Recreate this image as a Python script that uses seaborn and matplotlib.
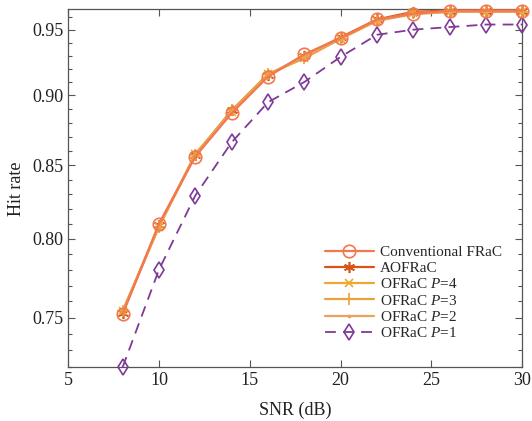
import numpy as np
import pandas as pd
import matplotlib
matplotlib.use('Agg')
import matplotlib.pyplot as plt
import seaborn as sns
from matplotlib.ticker import FixedLocator, FormatStrFormatter, NullFormatter

snr = [8, 10, 12, 14, 16, 18, 20, 22, 24, 26, 28, 30]

conventional = [0.752, 0.810, 0.856, 0.887, 0.914, 0.931, 0.9435, 0.958, 0.9625, 0.965, 0.965, 0.965]
aofrac = [0.753, 0.809, 0.857, 0.889, 0.915, 0.930, 0.944, 0.958, 0.964, 0.965, 0.965, 0.965]
ofrac_p4 = [0.754, 0.808, 0.858, 0.888, 0.916, 0.928, 0.943, 0.957, 0.963, 0.964, 0.964, 0.964]
ofrac_p3 = [0.754, 0.808, 0.857, 0.889, 0.916, 0.928, 0.943, 0.957, 0.963, 0.964, 0.964, 0.964]
ofrac_p2 = [0.753, 0.809, 0.857, 0.888, 0.915, 0.929, 0.943, 0.957, 0.962, 0.964, 0.964, 0.964]
ofrac_p1 = [0.720, 0.780, 0.829, 0.866, 0.895, 0.910, 0.929, 0.946, 0.950, 0.952, 0.954, 0.954]

labels = ['Conventional FRaC', 'AOFRaC', 'OFRaC $P$=4', 'OFRaC $P$=3',
          'OFRaC $P$=2', 'OFRaC $P$=1']

sns.set_theme(style='ticks')
plt.rcParams['font.family'] = ['Liberation Serif', 'DejaVu Serif']
plt.rcParams['mathtext.fontset'] = 'custom'
plt.rcParams['mathtext.rm'] = 'Liberation Serif'
plt.rcParams['mathtext.it'] = 'Liberation Serif:italic'

fig = plt.figure(figsize=(5.32, 4.21), dpi=100)
ax = fig.add_axes([0.128, 0.1276, 0.8538, 0.8503])

asterisk = (6, 2, 0)
# series: values, color, marker, markersize, linestyle
series = [
    (ofrac_p1, '#7E3A96', 'd', 8, (0, (6, 4))),
    (aofrac, '#D95319', asterisk, 8, '-'),
    (ofrac_p4, '#EDA830', 'x', 6, '-'),
    (ofrac_p3, '#E9A23B', '+', 8, '-'),
    (ofrac_p2, '#E8A45A', '.', 3, '-'),
    (conventional, '#F2784F', 'o', 9, '-'),
]
names = [labels[5], labels[1], labels[2], labels[3], labels[4], labels[0]]

handles = {}
for (vals, c, m, ms, ls), name in zip(series, names):
    df = pd.DataFrame({'snr': snr, 'hit': vals})
    sns.lineplot(data=df, x='snr', y='hit', ax=ax, color=c, marker=m,
                 markersize=ms, linestyle=ls, linewidth=1.6 if name != labels[5] else 1.3,
                 markerfacecolor='none' if m in ('o', 'd') else c,
                 markeredgecolor=c, markeredgewidth=1.2, clip_on=False, zorder=3)
    handles[name] = ax.lines[-1]

ax.set_yscale('log')
ax.set_xlim(5, 30)
ax.set_ylim(0.72, 0.966)
ax.xaxis.set_major_locator(FixedLocator([5, 10, 15, 20, 25, 30]))
ax.yaxis.set_major_locator(FixedLocator([0.75, 0.80, 0.85, 0.90, 0.95]))
ax.yaxis.set_major_formatter(FormatStrFormatter('%.2f'))
ax.yaxis.set_minor_locator(FixedLocator(np.round(np.arange(0.72, 0.967, 0.01), 2)))
ax.yaxis.set_minor_formatter(NullFormatter())

for s in ax.spines.values():
    s.set_color('#555555')
    s.set_linewidth(0.9)
ax.tick_params(which='both', direction='in', top=True, right=True,
               color='#555555', labelsize=13, labelcolor='#222222')
ax.tick_params(which='major', length=5, width=0.8)
ax.tick_params(which='minor', length=3, width=0.8)

ax.set_xlabel('SNR (dB)', fontsize=13, color='#222222', labelpad=9)
ax.set_ylabel('Hit rate', fontsize=13, color='#222222', labelpad=5)

leg = ax.legend([handles[l] for l in labels], labels, loc='lower right',
                bbox_to_anchor=(0.975, 0.05), frameon=False, fontsize=11,
                handlelength=3.2, handletextpad=0.4, labelspacing=0.15,
                borderaxespad=0.2)

fig.savefig('out.png', dpi=100)
